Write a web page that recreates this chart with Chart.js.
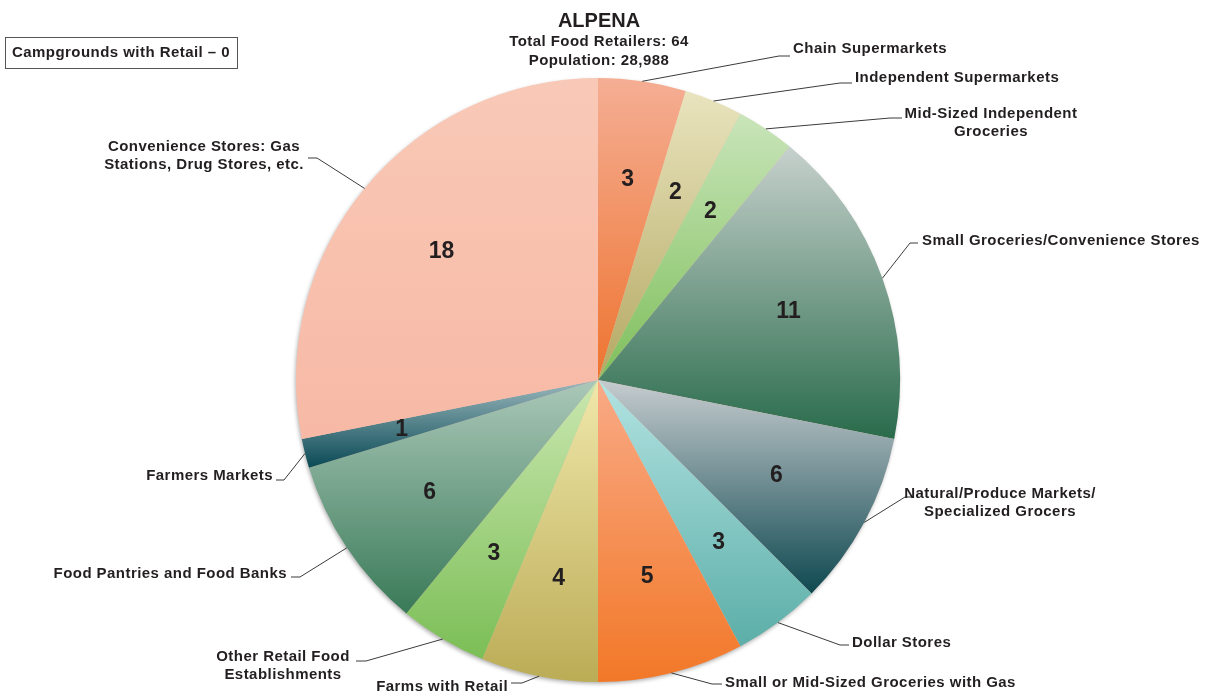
<!DOCTYPE html>
<html><head><meta charset="utf-8">
<script src="https://cdn.jsdelivr.net/npm/chart.js@4.4.1/dist/chart.umd.min.js"></script>
<style>html,body{margin:0;padding:0;background:#fff}#wrap{width:1213px;height:694px;position:relative}</style>
</head><body><div id="wrap"><canvas id="c" width="1213" height="694"></canvas></div>
<script>
// ---------- data ----------
const categories = [
  'Chain Supermarkets',
  'Independent Supermarkets',
  'Mid-Sized Independent Groceries',
  'Small Groceries/Convenience Stores',
  'Natural/Produce Markets/ Specialized Grocers',
  'Dollar Stores',
  'Small or Mid-Sized Groceries with Gas',
  'Farms with Retail',
  'Other Retail Food Establishments',
  'Food Pantries and Food Banks',
  'Farmers Markets',
  'Convenience Stores: Gas Stations, Drug Stores, etc.'
];
const counts = [3, 2, 2, 11, 6, 3, 5, 4, 3, 6, 1, 18];
const labelLines = [
  ['Chain Supermarkets'],
  ['Independent Supermarkets'],
  ['Mid-Sized Independent', 'Groceries'],
  ['Small Groceries/Convenience Stores'],
  ['Natural/Produce Markets/', 'Specialized Grocers'],
  ['Dollar Stores'],
  ['Small or Mid-Sized Groceries with Gas'],
  ['Farms with Retail'],
  ['Other Retail Food', 'Establishments'],
  ['Food Pantries and Food Banks'],
  ['Farmers Markets'],
  ['Convenience Stores: Gas', 'Stations, Drug Stores, etc.']
];
const chartTitle = 'ALPENA';
const subtitleLines = ['Total Food Retailers: 64', 'Population: 28,988'];
const noteText = 'Campgrounds with Retail \u2013 0';

// ---------- styles ----------
const gradTop = ['#F5AE94','#E9E4BE','#C9E5BA','#C7D1CD','#C6CCCF','#B2E3E2','#F9AA86','#F0E7AA','#CAE7B0','#ABC8B9','#9CB8BE','#F9C9B7'];
const gradBottom = ['#EE7430','#B4A862','#7EBF5B','#296B4B','#0F4850','#5CAEA8','#F27828','#BBAC56','#7BBE56','#397A58','#0A4A55','#F7B9A5'];
const FONT = '"Liberation Sans", Arial, sans-serif';
const TEXT = '#231F20';

// label layout: text anchor (tx,ty first-line middle), alignment, elbow (ex,ey), line end x (lx)
const labelLayout = [
  {tx:793, ty:49,  align:'left',   ex:779, ey:56,  lx:790},
  {tx:855, ty:78,  align:'left',   ex:840, ey:83,  lx:852},
  {tx:991, ty:114, align:'center', ex:890, ey:118, lx:902},
  {tx:922, ty:241, align:'left',   ex:910, ey:243, lx:918},
  {tx:1000,ty:494, align:'center', ex:905, ey:497, lx:913},
  {tx:852, ty:643, align:'left',   ex:840, ey:645, lx:849},
  {tx:725, ty:683, align:'left',   ex:712, ey:684, lx:722},
  {tx:508, ty:687, align:'right',  ex:522, ey:683, lx:511},
  {tx:283, ty:657, align:'center', ex:366, ey:661, lx:356},
  {tx:287, ty:574, align:'right',  ex:300, ey:577, lx:291},
  {tx:273, ty:476, align:'right',  ex:284, ey:480, lx:276},
  {tx:204, ty:147, align:'center', ex:317, ey:158, lx:308}
];

const total = counts.reduce((a,b)=>a+b,0);

function sliceGradient(c) {
  const chart = c.chart, area = chart.chartArea, i = c.dataIndex;
  if (!area || i === undefined) return gradBottom[i] || '#ccc';
  const cx = (area.left + area.right) / 2, cy = (area.top + area.bottom) / 2;
  const r = Math.min(area.right - area.left, area.bottom - area.top) / 2;
  let before = 0; for (let k = 0; k < i; k++) before += counts[k];
  const a0 = -Math.PI/2 + before / total * 2*Math.PI;
  const a1 = a0 + counts[i] / total * 2*Math.PI;
  const ys = [cy, cy + r*Math.sin(a0), cy + r*Math.sin(a1)];
  if (a0 <= Math.PI/2 && a1 >= Math.PI/2) ys.push(cy + r);
  if (a0 <= -Math.PI/2 + 1e-9 || a1 >= 3*Math.PI/2 - 1e-9) ys.push(cy - r);
  const y0 = Math.min(...ys), y1 = Math.max(...ys);
  const g = chart.ctx.createLinearGradient(0, y0, 0, y1);
  g.addColorStop(0, gradTop[i]);
  g.addColorStop(1, gradBottom[i]);
  return g;
}

function setSpacing(ctx, v) { if ('letterSpacing' in ctx) ctx.letterSpacing = v; }

const decor = {
  id: 'decor',
  beforeDatasetsDraw(chart) {
    const meta = chart.getDatasetMeta(0);
    const a = meta.data[0]; if (!a) return;
    const ctx = chart.ctx;
    ctx.save();
    ctx.shadowColor = 'rgba(0,0,0,0.35)';
    ctx.shadowBlur = 4; ctx.shadowOffsetX = -1; ctx.shadowOffsetY = 2;
    ctx.beginPath(); ctx.arc(a.x, a.y, a.outerRadius - 0.5, 0, Math.PI*2);
    ctx.fillStyle = '#f4c0ae'; ctx.fill();
    ctx.restore();
  },
  afterDatasetsDraw(chart) {
    const ctx = chart.ctx;
    const meta = chart.getDatasetMeta(0);
    ctx.save();
    // title
    ctx.fillStyle = TEXT; ctx.textAlign = 'center'; ctx.textBaseline = 'middle';
    setSpacing(ctx, '0px');
    ctx.font = 'bold 20px ' + FONT;
    ctx.fillText(chartTitle, 599, 21);
    setSpacing(ctx, '0.45px');
    ctx.font = 'bold 15px ' + FONT;
    subtitleLines.forEach((t, k) => ctx.fillText(t, 599, 42 + k*19));
    // note box
    ctx.strokeStyle = '#555'; ctx.lineWidth = 1;
    ctx.strokeRect(5.5, 37.5, 232, 31);
    ctx.textAlign = 'left';
    ctx.fillText(noteText, 12, 53);
    // labels & leaders
    meta.data.forEach((arc, i) => {
      const mid = (arc.startAngle + arc.endAngle) / 2;
      const R = arc.outerRadius;
      // value
      ctx.fillStyle = TEXT; ctx.textAlign = 'center'; ctx.textBaseline = 'middle';
      setSpacing(ctx, '0px');
      ctx.font = 'bold 23px ' + FONT;
      ctx.fillText(String(counts[i]), arc.x + 0.67*R*Math.cos(mid), arc.y + 0.67*R*Math.sin(mid));
      // leader
      const L = labelLayout[i];
      ctx.strokeStyle = '#3b3b3b'; ctx.lineWidth = 1;
      ctx.beginPath();
      ctx.moveTo(arc.x + R*Math.cos(mid), arc.y + R*Math.sin(mid));
      ctx.lineTo(L.ex, L.ey);
      ctx.lineTo(L.lx, L.ey);
      ctx.stroke();
      // text
      setSpacing(ctx, '0.45px');
      ctx.font = 'bold 15px ' + FONT;
      ctx.textAlign = L.align;
      labelLines[i].forEach((t, k) => ctx.fillText(t, L.tx, L.ty + k*18));
    });
    ctx.restore();
  }
};

new Chart(document.getElementById('c'), {
  type: 'pie',
  data: {
    labels: categories,
    datasets: [{
      data: counts,
      backgroundColor: sliceGradient,
      borderWidth: 0
    }]
  },
  options: {
    responsive: false,
    animation: false,
    devicePixelRatio: 1,
    layout: { padding: { left: 296, right: 313, top: 78, bottom: 12 } },
    plugins: { legend: { display: false }, tooltip: { enabled: false }, title: { display: false } }
  },
  plugins: [decor]
});
</script>
</body></html>
